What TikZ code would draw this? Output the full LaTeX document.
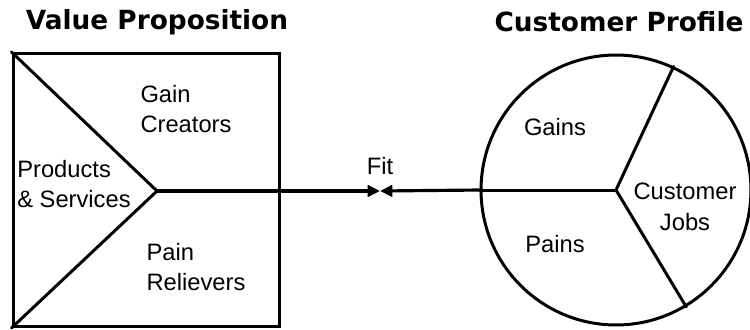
\documentclass[tikz,border=0pt]{standalone}
\usepackage{fontspec}
\setmainfont{Liberation Sans}
\newfontfamily\headfont{DejaVu Sans}
\usetikzlibrary{arrows.meta, positioning, calc}

\begin{document}
\begin{tikzpicture}[
    x=0.02cm, y=-0.02cm,
    frame/.style={draw, line width=1.7pt, inner sep=0pt},
    part/.style={line width=1.7pt, line cap=round},
    heading/.style={font=\headfont\bfseries\fontsize{15}{18}\selectfont},
    lbl/.style={font=\fontsize{13.5}{17.5}\selectfont, inner sep=0pt},
    >={Triangle[length=7pt, width=6.5pt]}
  ]
  \useasboundingbox (0,0) rectangle (750,329);

  % value proposition: square split into three
  \node[frame, minimum width=5.34cm, minimum height=5.46cm] (vp) at (146.5,190) {};
  \coordinate (apex) at (157,191);
  \draw[part] (vp.north west) -- (apex) -- (vp.south west);
  \draw[line width=2.1pt] (apex) -- (apex -| vp.east);

  \node[heading] (vptitle) at (157,22) {Value Proposition};
  \node[lbl, align=left] (creators) at (186,109) {Gain\\Creators};
  \node[lbl, align=left] (products) at (74,184) {Products\\\& Services};
  \node[lbl, align=left] (relievers) at (196,267) {Pain\\Relievers};

  % customer profile: circle with three spokes
  \node[frame, circle, minimum size=5.4cm] (cp) at (616,190) {};
  \draw[part] (cp.west) -- (cp.center);
  \draw[part] (cp.65) -- (cp.center) -- (cp.-59);

  \node[heading] (cptitle) at (619,22) {Customer Profile};
  \node[lbl] (gains) at (555,127) {Gains};
  \node[lbl] (pains) at (555,244) {Pains};
  \node[lbl, align=center] (jobs) at (685,207) {Customer\\Jobs};

  % fit between both sides
  \coordinate (fit) at (380,191);
  \draw[->, line width=1.8pt] (apex -| vp.east) -- (fit);
  \draw[->, line width=1.8pt] (cp.west) -- (fit);
  \node[lbl] (fitlbl) at (380,166) {Fit};
\end{tikzpicture}
\end{document}
